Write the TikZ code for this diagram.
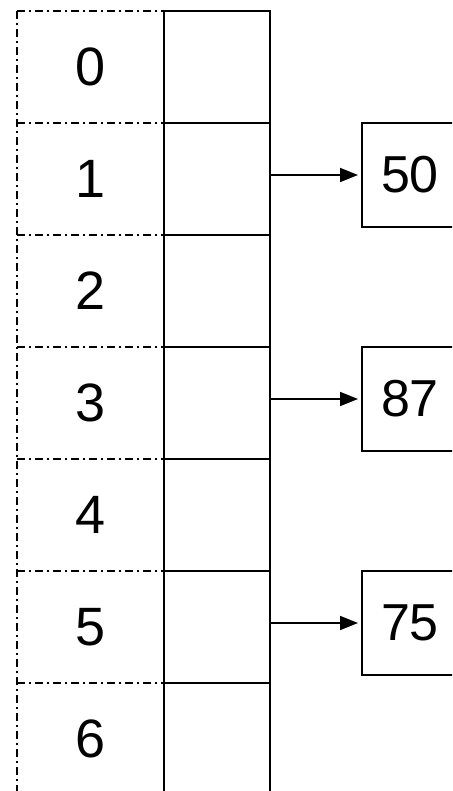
\documentclass[tikz,border=0pt]{standalone}
\usepackage{fontspec}
\setmainfont{Liberation Sans}
\usetikzlibrary{arrows.meta}
\begin{document}
\begin{tikzpicture}[x=1pt,y=-1pt,
  cell/.style={draw,line width=2.2pt,minimum width=106pt,minimum height=112pt,inner sep=0pt,outer sep=0pt},
  idx/.style={font=\fontsize{54}{60}\selectfont,inner sep=0pt},
  valbox/.style={draw,line width=2.2pt,minimum width=96pt,minimum height=104pt,inner sep=0pt,outer sep=0pt,font=\fontsize{52}{60}\selectfont},
  dd/.style={line width=1.7pt,dash pattern=on 8pt off 4pt on 2pt off 4pt},
  ptr/.style={line width=1.8pt,-{Triangle[length=18pt,width=14pt]},shorten >=4pt}]
\useasboundingbox (0,0) rectangle (452,791);
\clip (0,0) rectangle (452,791);
\foreach \i in {0,...,6}{
  \node[cell] (c\i) at (217,{67+112*\i}) {};
  \node[idx] (i\i) at (91,{67+112*\i}) {\i};
  \coordinate (d\i) at (17,{11+112*\i});
  \draw[dd] (d\i) -- (c\i.north west);
}
\coordinate (dend) at (17,795);
\draw[dd] (d0) -- (dend);
\node[valbox] (b1) at (410,175) {50};
\node[valbox] (b3) at (410,399) {87};
\node[valbox] (b5) at (410,623) {75};
\draw[ptr] (b1.west -| c1.east) -- (b1.west);
\draw[ptr] (b3.west -| c3.east) -- (b3.west);
\draw[ptr] (b5.west -| c5.east) -- (b5.west);
\end{tikzpicture}
\end{document}
